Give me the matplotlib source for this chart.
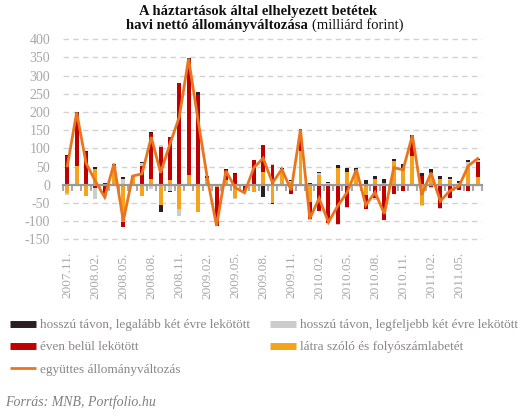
import numpy as np
import matplotlib
matplotlib.use('Agg')
import matplotlib.pyplot as plt
from matplotlib.lines import Line2D

plt.rcParams['font.family'] = ['Liberation Serif', 'DejaVu Serif']

months = ['2007.11.', '2007.12.', '2008.01.', '2008.02.', '2008.03.', '2008.04.',
          '2008.05.', '2008.06.', '2008.07.', '2008.08.', '2008.09.', '2008.10.',
          '2008.11.', '2008.12.', '2009.01.', '2009.02.', '2009.03.', '2009.04.',
          '2009.05.', '2009.06.', '2009.07.', '2009.08.', '2009.09.', '2009.10.',
          '2009.11.', '2009.12.', '2010.01.', '2010.02.', '2010.03.', '2010.04.',
          '2010.05.', '2010.06.', '2010.07.', '2010.08.', '2010.09.', '2010.10.',
          '2010.11.', '2010.12.', '2011.01.', '2011.02.', '2011.03.', '2011.04.',
          '2011.05.', '2011.06.', '2011.07.']

# hosszú távon, legalább két évre lekötött
long_2plus = [5, 2, 5, 6, 5, 4, 3, 2, 2, 5, -18, -3, 2, 2, 8, 4, -3, 3, 3, 3, 2, -34, -3,
              3, 3, 6, 6, 3, 2, 8, 10, 10, 12, 8, 11, 6, 13, 8, 7, 9, 6, 5, 5, 6, 3]
# hosszú távon, legfeljebb két évre lekötött
long_upto2 = [-6, 0, 0, -30, -8, 0, 17, 0, 9, -13, 6, -17, -18, -4, 0, 0, 0, -3, -3, -6, 0,
              0, 5, 0, 4, 0, -5, 6, 6, -5, -4, -3, 0, -6, 0, 0, 0, 0, -2, -3, -3, 3, 5, 12, 4]
# éven belül lekötött
within_year = [78, 146, 89, -10, -28, 2, -14, 0, 51, 126, 104, 120, 279, 319, 247, 0, -105,
               27, 29, -18, 67, 73, 53, 0, -26, 53, -46, -72, -106, -107, -61, 0, -39, -36,
               -97, -26, -16, 50, 24, -6, -65, -36, -15, -17, 42]
# látra szóló és folyószámlabetét
sight = [-22, 51, -31, 42, 0, 52, -102, 22, -31, 15, -57, 12, -68, 28, -75, 19, -6, 13, -37,
         0, -20, 35, -51, 42, 7, 94, -47, 27, 0, 47, 35, 37, -27, 15, 6, 65, 44, 78, -57, 33,
         17, 12, 0, 51, 21]
# együttes állományváltozás
total = [52, 199, 60, 10, -34, 58, -100, 24, 30, 131, 33, 112, 186, 347, 180, 20, -113, 38,
         -8, -22, 47, 73, 5, 43, -15, 152, -93, -37, -103, -58, -21, 42, -56, -21, -80, 47,
         41, 136, -28, 33, -45, -17, -4, 52, 72]

yticks = [-150, -100, -50, 0, 50, 100, 150, 200, 250, 300, 350, 400]

c_black = '#2b1d22'
c_gray = '#cccccc'
c_red = '#c00000'
c_orange = '#f5a31b'
c_line = '#e9761f'
txt_gray = '#a8a8a8'
leg_gray = '#8c8588'

W, H = 531, 418
fig = plt.figure(figsize=(W / 100, H / 100), dpi=100)

y_lo, y_hi = -155, 405
top_px = 39.3 - (y_hi - 400) * 0.365
bot_px = 239.3 + (-150 - y_lo) * 0.365
ax = fig.add_axes([62.7 / W, 1 - bot_px / H, 419.6 / W, (bot_px - top_px) / H])

x = np.arange(len(months))
series = [(sight, c_orange), (within_year, c_red), (long_upto2, c_gray), (long_2plus, c_black)]
pos_base = np.zeros(len(x))
neg_base = np.zeros(len(x))
bw = 0.42
for vals, col in series:
    v = np.array(vals, dtype=float)
    pos = np.where(v > 0, v, 0)
    neg = np.where(v < 0, v, 0)
    ax.bar(x, pos, bw, bottom=pos_base, color=col, linewidth=0, zorder=2)
    ax.bar(x, neg, bw, bottom=neg_base, color=col, linewidth=0, zorder=2)
    pos_base += pos
    neg_base += neg

ax.plot(x, total, color=c_line, lw=2, zorder=4, solid_joinstyle='miter')

ax.set_xlim(-0.5, len(months) - 0.5)
ax.set_ylim(y_lo, y_hi)
ax.set_yticks(yticks)
ax.set_yticklabels([str(t) for t in yticks])
ax.yaxis.grid(True, color='#d2d2d2', linestyle=(0, (4, 3)), lw=1)
ax.set_axisbelow(True)
ax.tick_params(axis='y', length=0, pad=9, labelsize=10, labelcolor=txt_gray)
ax.set_xticks(x[::3])
ax.set_xticklabels(months[::3], rotation=90, va='top', ha='center')
ax.tick_params(axis='x', length=0, pad=8, labelsize=9.5, labelcolor=txt_gray)
for s in ax.spines.values():
    s.set_visible(False)
ax.patch.set_visible(False)

# zero axis line with month ticks
sec = ax.secondary_xaxis((0 - y_lo) / (y_hi - y_lo))
sec.set_xticks(np.arange(-0.5, len(months), 1.0))
sec.set_xticklabels([])
sec.tick_params(axis='x', length=4, width=1.2, color='#999999', direction='out')
sec.spines['bottom'].set_color('#999999')
sec.spines['bottom'].set_linewidth(1.6)
sec.set_zorder(3)

# title
fig.text(258 / W, 1 - 11 / H, 'A háztartások által elhelyezett betétek', ha='center',
         va='center', fontsize=10.5, fontweight='bold', color='#111111')
fig.text(308 / W, 1 - 25 / H, 'havi nettó állományváltozása', ha='right', va='center',
         fontsize=10.5, fontweight='bold', color='#111111')
fig.text(312 / W, 1 - 25 / H, '(milliárd forint)', ha='left', va='center',
         fontsize=10.5, color='#111111')

# legends
hA = [Line2D([], [], color=c_black, lw=5, solid_capstyle='butt'),
      Line2D([], [], color=c_red, lw=5, solid_capstyle='butt'),
      Line2D([], [], color=c_line, lw=2, solid_capstyle='butt')]
lA = ['hosszú távon, legalább két évre lekötött', 'éven belül lekötött',
      'együttes állományváltozás']
hB = [Line2D([], [], color=c_gray, lw=5, solid_capstyle='butt'),
      Line2D([], [], color=c_orange, lw=5, solid_capstyle='butt')]
lB = ['hosszú távon, legfeljebb két évre lekötött', 'látra szóló és folyószámlabetét']
common = dict(loc='upper left', frameon=False, fontsize=9.5, handlelength=2.0,
              handletextpad=0.25, labelspacing=0.75, borderpad=0, borderaxespad=0,
              labelcolor=leg_gray)
fig.legend(hA, lA, bbox_to_anchor=(10 / W, 1 - 319 / H), **common)
fig.legend(hB, lB, bbox_to_anchor=(270 / W, 1 - 319 / H), **common)

fig.text(5 / W, 1 - 402 / H, 'Forrás: MNB, Portfolio.hu', ha='left', va='center',
         fontsize=10, style='italic', color='#808080')

fig.savefig('out.png', dpi=100)
